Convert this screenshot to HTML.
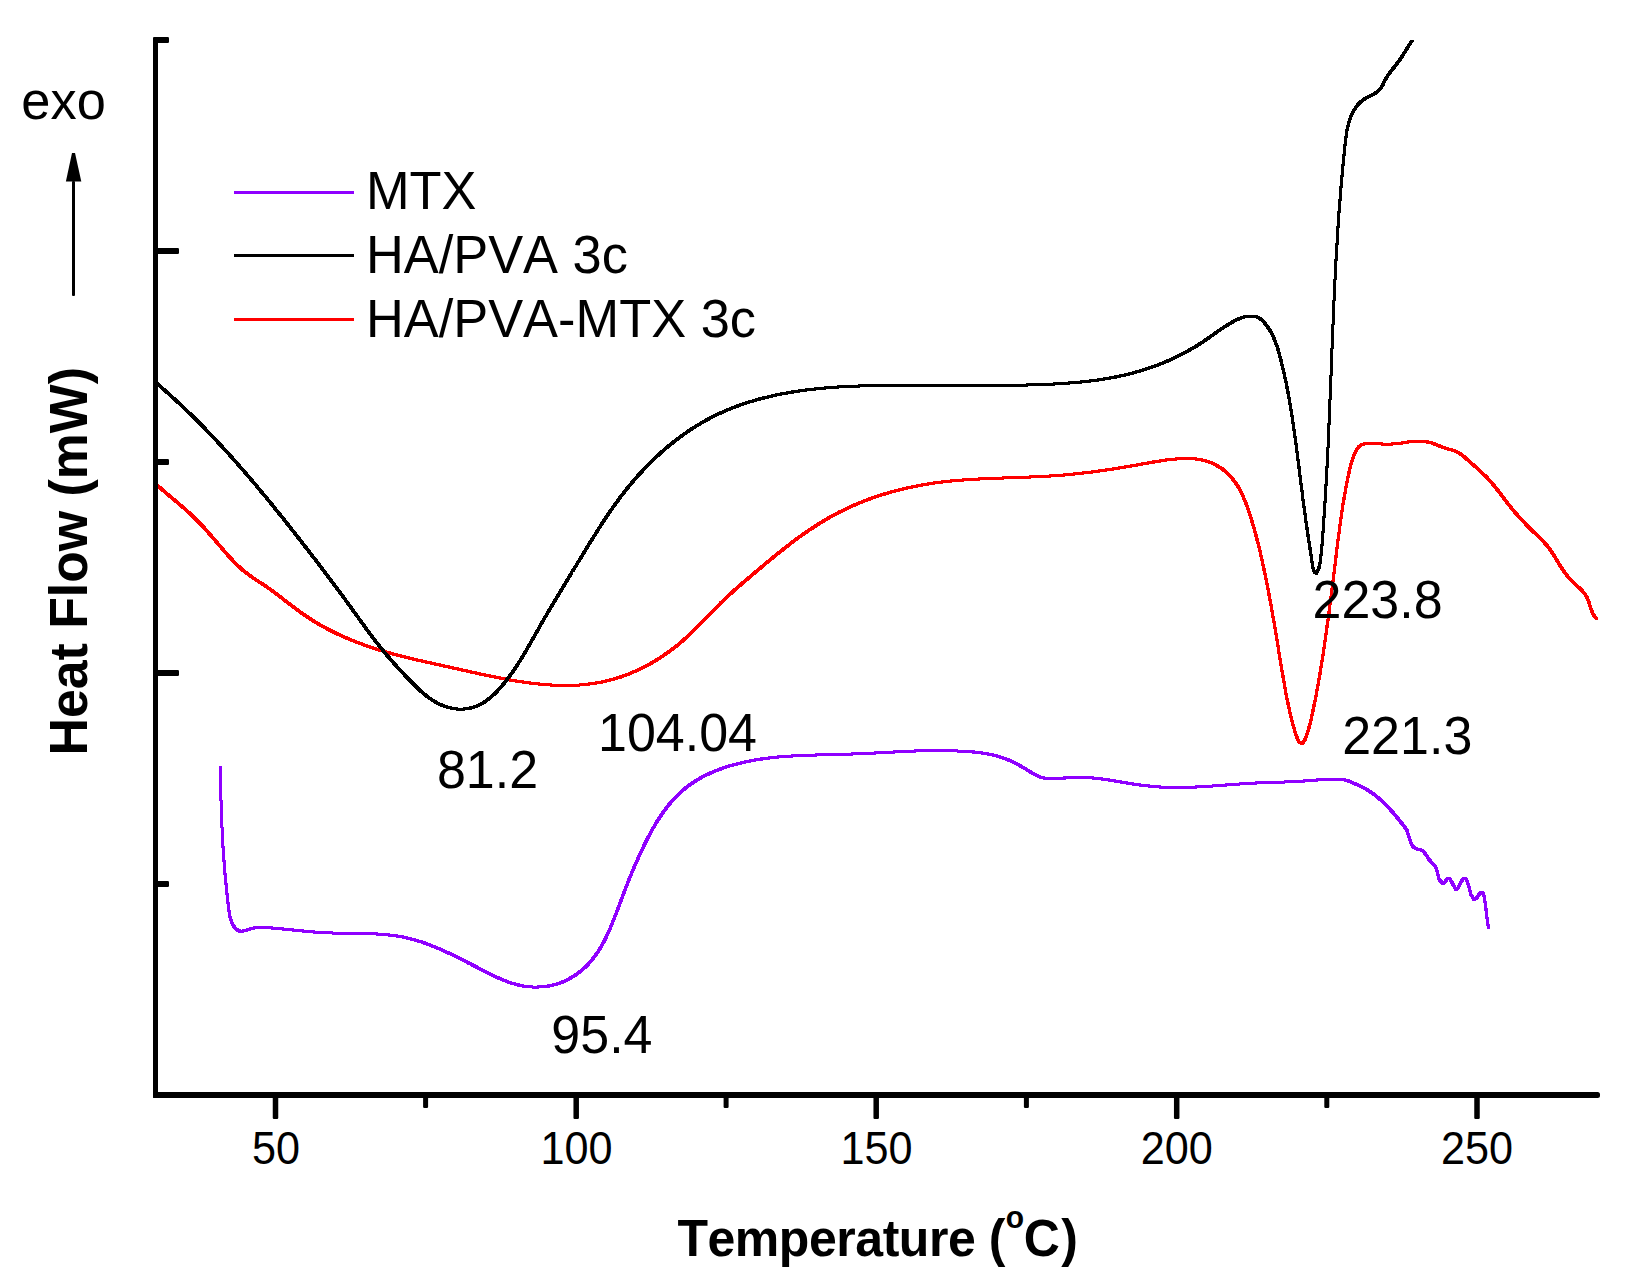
<!DOCTYPE html>
<html><head><meta charset="utf-8"><title>DSC thermogram</title>
<style>
html,body{margin:0;padding:0;background:#fff;}
svg{display:block;}
text{font-family:"Liberation Sans", sans-serif;fill:#000;}
.b{font-weight:bold;}
</style></head><body>
<svg width="1629" height="1287" viewBox="0 0 1629 1287">
<rect width="1629" height="1287" fill="#fff"/>
<!-- curves -->
<clipPath id="plot"><rect x="155" y="40" width="1460" height="1056"/></clipPath>
<filter id="pen" filterUnits="userSpaceOnUse" x="0" y="0" width="1629" height="1287"><feMorphology operator="dilate" radius="1"/></filter>
<g clip-path="url(#plot)" shape-rendering="crispEdges" fill="none" stroke-width="1" stroke-linejoin="round" stroke-linecap="butt">
<g filter="url(#pen)" stroke="#8f00ff"><path d="M220.3 767.0L220.3 770.0L220.4 773.0L220.4 776.0L220.5 779.0L220.6 782.0L220.6 785.0L220.7 788.1L220.8 791.1L220.9 794.1L220.9 797.1L221.0 800.1L221.1 803.1L221.2 806.1L221.3 809.1L221.4 812.1L221.5 815.1L221.6 818.1L221.8 821.1L221.9 824.1L222.0 827.1L222.1 830.1L222.3 833.1L222.4 836.1L222.6 839.1L222.8 842.1L222.9 845.1L223.1 848.1L223.3 851.1L223.5 854.1L223.7 857.1L223.9 860.1L224.2 863.1L224.4 866.1L224.6 869.1L224.9 872.1L225.1 875.1L225.4 878.1L225.7 881.1L226.0 884.1L226.3 887.1L226.6 890.1L226.9 893.0L227.2 896.0L227.5 899.0L227.9 902.0L228.2 905.0L228.6 908.0L229.0 911.0L229.4 913.9L230.0 916.9L230.8 919.8L231.8 922.6L233.2 925.3L234.9 927.7L237.1 929.8L239.8 931.1L242.7 931.1L245.7 930.4L248.5 929.5L251.4 928.7L254.4 928.0L257.4 927.7L260.4 927.5L263.4 927.5L266.4 927.7L269.4 927.8L272.4 928.0L275.4 928.3L278.4 928.5L281.3 928.8L284.3 929.1L287.3 929.4L290.3 929.7L293.3 930.0L296.3 930.3L299.3 930.6L302.3 930.9L305.3 931.2L308.3 931.5L311.3 931.7L314.3 932.0L317.2 932.2L320.2 932.4L323.2 932.6L326.2 932.8L329.3 932.9L332.3 933.0L335.3 933.1L338.3 933.2L341.3 933.2L344.3 933.2L347.3 933.3L350.3 933.3L353.3 933.3L356.3 933.4L359.3 933.4L362.3 933.5L365.3 933.5L368.3 933.6L371.3 933.7L374.3 933.9L377.3 934.0L380.3 934.2L383.3 934.4L386.3 934.7L389.3 935.0L392.3 935.4L395.3 935.8L398.2 936.2L401.2 936.7L404.2 937.3L407.1 938.0L410.0 938.7L412.9 939.4L415.8 940.2L418.7 941.1L421.6 942.0L424.4 943.0L427.2 944.0L430.0 945.1L432.8 946.2L435.6 947.3L438.4 948.5L441.2 949.6L443.9 950.9L446.6 952.1L449.4 953.4L452.1 954.7L454.8 956.0L457.5 957.3L460.2 958.7L462.8 960.0L465.5 961.4L468.2 962.8L470.9 964.1L473.5 965.5L476.2 966.9L478.9 968.3L481.5 969.7L484.2 971.0L486.9 972.4L489.6 973.8L492.3 975.1L495.0 976.4L497.7 977.7L500.5 978.9L503.2 980.0L506.0 981.1L508.8 982.2L511.7 983.1L514.6 984.0L517.5 984.8L520.4 985.4L523.4 986.0L526.3 986.4L529.3 986.8L532.3 987.0L535.3 987.1L538.3 987.0L541.3 986.9L544.3 986.6L547.3 986.2L550.3 985.7L553.2 985.0L556.1 984.2L559.0 983.3L561.8 982.3L564.5 981.1L567.2 979.8L569.9 978.4L572.5 976.9L575.0 975.3L577.5 973.5L579.9 971.7L582.2 969.8L584.5 967.8L586.6 965.8L588.7 963.6L590.7 961.4L592.7 959.0L594.5 956.7L596.3 954.2L598.0 951.8L599.6 949.2L601.1 946.6L602.6 944.0L604.1 941.4L605.4 938.7L606.7 936.0L608.0 933.3L609.2 930.5L610.4 927.8L611.6 925.0L612.7 922.2L613.8 919.4L614.9 916.6L616.0 913.8L617.0 911.0L618.1 908.2L619.2 905.4L620.2 902.6L621.3 899.8L622.3 896.9L623.4 894.1L624.5 891.3L625.5 888.5L626.6 885.7L627.7 882.9L628.8 880.1L630.0 877.3L631.1 874.6L632.2 871.8L633.4 869.0L634.6 866.2L635.8 863.5L637.0 860.7L638.2 858.0L639.4 855.2L640.7 852.5L642.0 849.8L643.3 847.1L644.6 844.4L645.9 841.7L647.3 839.0L648.7 836.3L650.1 833.7L651.5 831.0L653.0 828.4L654.5 825.8L656.0 823.2L657.6 820.7L659.2 818.1L660.9 815.6L662.6 813.2L664.3 810.7L666.1 808.3L668.0 805.9L669.9 803.6L671.8 801.3L673.8 799.1L675.9 796.9L678.0 794.8L680.2 792.7L682.4 790.7L684.7 788.7L687.1 786.9L689.5 785.1L692.0 783.3L694.5 781.7L697.0 780.1L699.6 778.6L702.2 777.1L704.9 775.7L707.6 774.4L710.3 773.1L713.1 771.9L715.8 770.8L718.6 769.7L721.5 768.6L724.3 767.7L727.2 766.7L730.0 765.8L732.9 765.0L735.8 764.2L738.7 763.5L741.7 762.8L744.6 762.1L747.5 761.5L750.5 760.9L753.4 760.3L756.4 759.8L759.4 759.3L762.3 758.9L765.3 758.5L768.3 758.1L771.3 757.7L774.3 757.4L777.3 757.1L780.2 756.8L783.2 756.6L786.2 756.4L789.2 756.2L792.2 756.0L795.2 755.8L798.2 755.7L801.2 755.5L804.2 755.4L807.2 755.3L810.3 755.2L813.3 755.1L816.3 755.0L819.3 754.9L822.3 754.9L825.3 754.8L828.3 754.7L831.3 754.7L834.3 754.6L837.3 754.5L840.3 754.4L843.3 754.3L846.3 754.3L849.3 754.1L852.3 754.0L855.3 753.9L858.3 753.8L861.3 753.7L864.3 753.5L867.3 753.4L870.3 753.2L873.3 753.1L876.3 752.9L879.3 752.7L882.3 752.6L885.3 752.4L888.3 752.3L891.3 752.1L894.3 752.0L897.3 751.8L900.4 751.7L903.4 751.5L906.4 751.4L909.4 751.3L912.4 751.2L915.4 751.0L918.4 750.9L921.4 750.9L924.4 750.8L927.4 750.7L930.4 750.7L933.4 750.6L936.4 750.6L939.4 750.6L942.4 750.6L945.4 750.7L948.4 750.7L951.4 750.8L954.4 750.9L957.4 751.0L960.4 751.1L963.4 751.3L966.4 751.5L969.4 751.7L972.4 751.9L975.4 752.2L978.4 752.5L981.4 752.9L984.4 753.3L987.3 753.8L990.3 754.4L993.2 755.0L996.1 755.8L999.0 756.6L1001.9 757.5L1004.7 758.5L1007.5 759.6L1010.3 760.8L1013.0 762.1L1015.7 763.4L1018.4 764.8L1021.0 766.3L1023.6 767.8L1026.2 769.3L1028.7 770.9L1031.3 772.5L1033.9 774.0L1036.5 775.5L1039.2 776.7L1042.1 777.6L1045.1 778.2L1048.1 778.4L1051.1 778.5L1054.1 778.5L1057.1 778.3L1060.1 778.2L1063.1 778.1L1066.1 777.9L1069.1 777.8L1072.1 777.7L1075.1 777.6L1078.1 777.5L1081.1 777.5L1084.1 777.5L1087.1 777.6L1090.1 777.8L1093.1 778.0L1096.1 778.3L1099.1 778.6L1102.1 779.0L1105.0 779.4L1108.0 779.8L1111.0 780.3L1114.0 780.8L1116.9 781.3L1119.9 781.8L1122.8 782.3L1125.8 782.8L1128.8 783.3L1131.7 783.8L1134.7 784.2L1137.7 784.7L1140.7 785.1L1143.6 785.4L1146.6 785.8L1149.6 786.1L1152.6 786.4L1155.6 786.7L1158.6 786.9L1161.6 787.1L1164.6 787.2L1167.6 787.4L1170.6 787.4L1173.6 787.5L1176.6 787.5L1179.6 787.5L1182.6 787.5L1185.6 787.4L1188.6 787.3L1191.6 787.2L1194.6 787.1L1197.6 786.9L1200.6 786.8L1203.6 786.6L1206.6 786.4L1209.6 786.2L1212.6 786.0L1215.6 785.8L1218.6 785.5L1221.6 785.3L1224.6 785.1L1227.6 784.9L1230.6 784.6L1233.6 784.4L1236.6 784.2L1239.6 784.0L1242.6 783.8L1245.6 783.6L1248.6 783.4L1251.6 783.2L1254.6 783.1L1257.6 782.9L1260.6 782.8L1263.6 782.7L1266.6 782.6L1269.6 782.5L1272.6 782.4L1275.6 782.3L1278.6 782.2L1281.7 782.1L1284.7 782.0L1287.7 781.9L1290.7 781.7L1293.7 781.6L1296.7 781.5L1299.7 781.3L1302.7 781.1L1305.7 780.9L1308.7 780.7L1311.7 780.4L1314.7 780.2L1317.7 779.9L1320.6 779.6L1323.6 779.4L1326.6 779.2L1329.6 779.1L1332.6 779.0L1335.7 779.0L1338.7 779.1L1341.7 779.4L1344.6 779.8L1347.5 780.6L1350.3 781.7L1353.1 782.9L1355.8 784.1L1358.6 785.3L1361.3 786.6L1364.0 788.0L1366.6 789.5L1369.1 791.0L1371.6 792.7L1374.1 794.5L1376.4 796.3L1378.8 798.2L1381.0 800.2L1383.2 802.3L1385.4 804.4L1387.5 806.5L1389.5 808.7L1391.5 810.9L1393.5 813.2L1395.5 815.5L1397.4 817.8L1399.3 820.2L1401.1 822.5L1403.0 824.9L1404.8 827.3L1406.6 829.7"/><path d="M1406.7 829.6L1408.6 835.4L1410.5 841.8L1412.4 846.3L1415.6 848.5L1422.7 850.5L1425.9 854.6L1429.7 860.4L1435.5 866.2L1437.4 872.6L1439.0 879.0L1442.6 883.8L1445.4 881.5L1447.1 878.7L1450.0 878.7L1452.8 884.1L1456.0 889.5L1458.6 887.3L1461.2 881.5L1463.3 878.7L1466.3 879.0L1468.2 884.1L1470.8 894.4L1474.0 899.5L1476.5 898.2L1479.7 893.7L1481.7 892.1L1483.6 893.3L1484.9 900.8L1486.2 911.0L1487.4 921.3L1488.5 928.3"/></g>
<path filter="url(#pen)" stroke="#ff0000" d="M155.5 483.5L157.7 485.6L159.9 487.6L162.1 489.6L164.4 491.6L166.7 493.5L169.0 495.5L171.3 497.4L173.6 499.3L175.9 501.3L178.2 503.2L180.4 505.2L182.7 507.1L185.0 509.1L187.2 511.1L189.5 513.1L191.7 515.1L193.8 517.2L196.0 519.3L198.1 521.5L200.2 523.6L202.2 525.8L204.3 528.0L206.3 530.3L208.3 532.5L210.2 534.8L212.2 537.0L214.2 539.3L216.1 541.6L218.1 543.9L220.0 546.2L222.0 548.4L223.9 550.7L225.9 553.0L227.9 555.2L229.9 557.4L232.0 559.6L234.0 561.8L236.1 564.0L238.3 566.0L240.5 568.1L242.8 570.1L245.1 572.0L247.5 573.8L249.9 575.6L252.3 577.3L254.8 579.0L257.3 580.7L259.8 582.3L262.4 583.9L264.9 585.6L267.3 587.3L269.8 589.0L272.2 590.8L274.7 592.6L277.1 594.4L279.4 596.2L281.8 598.0L284.2 599.9L286.6 601.7L288.9 603.5L291.3 605.4L293.7 607.2L296.1 609.0L298.5 610.8L300.9 612.6L303.4 614.3L305.9 616.0L308.4 617.7L310.9 619.3L313.4 620.9L316.0 622.5L318.6 624.0L321.2 625.5L323.8 627.0L326.4 628.4L329.1 629.8L331.8 631.2L334.5 632.5L337.2 633.8L339.9 635.1L342.6 636.3L345.4 637.5L348.1 638.7L350.9 639.8L353.7 641.0L356.5 642.1L359.3 643.1L362.1 644.2L364.9 645.2L367.8 646.2L370.6 647.1L373.5 648.1L376.3 649.0L379.2 649.9L382.1 650.8L385.0 651.6L387.8 652.5L390.7 653.3L393.6 654.1L396.5 654.9L399.4 655.6L402.3 656.4L405.3 657.1L408.2 657.8L411.1 658.5L414.0 659.2L416.9 659.9L419.9 660.6L422.8 661.3L425.7 661.9L428.7 662.6L431.6 663.2L434.5 663.9L437.5 664.5L440.4 665.1L443.3 665.8L446.3 666.4L449.2 667.1L452.1 667.7L455.1 668.4L458.0 669.0L460.9 669.7L463.8 670.3L466.8 671.0L469.7 671.7L472.6 672.3L475.6 673.0L478.5 673.6L481.4 674.3L484.4 674.9L487.3 675.5L490.2 676.1L493.2 676.7L496.1 677.3L499.1 677.9L502.0 678.5L505.0 679.0L507.9 679.6L510.9 680.1L513.9 680.6L516.8 681.1L519.8 681.6L522.8 682.0L525.7 682.4L528.7 682.8L531.7 683.2L534.7 683.6L537.7 683.9L540.6 684.2L543.6 684.5L546.6 684.7L549.6 684.9L552.6 685.1L555.6 685.2L558.6 685.3L561.6 685.4L564.6 685.4L567.6 685.4L570.6 685.4L573.6 685.3L576.6 685.1L579.6 685.0L582.6 684.7L585.6 684.5L588.6 684.1L591.6 683.7L594.6 683.3L597.5 682.8L600.5 682.3L603.4 681.7L606.3 681.0L609.3 680.3L612.2 679.5L615.1 678.7L617.9 677.8L620.8 676.9L623.6 675.9L626.4 674.9L629.2 673.8L632.0 672.6L634.8 671.4L637.5 670.2L640.2 668.9L642.9 667.6L645.6 666.2L648.2 664.8L650.9 663.4L653.5 661.9L656.0 660.3L658.6 658.7L661.1 657.1L663.6 655.4L666.1 653.7L668.5 652.0L671.0 650.2L673.4 648.4L675.7 646.6L678.1 644.7L680.4 642.8L682.7 640.8L684.9 638.8L687.1 636.8L689.3 634.8L691.5 632.7L693.7 630.6L695.8 628.5L697.9 626.4L700.0 624.2L702.1 622.1L704.2 619.9L706.3 617.8L708.4 615.6L710.5 613.4L712.6 611.3L714.7 609.1L716.8 607.0L718.9 604.9L721.0 602.7L723.2 600.6L725.4 598.6L727.5 596.5L729.7 594.5L732.0 592.4L734.2 590.4L736.4 588.4L738.7 586.4L741.0 584.5L743.2 582.5L745.5 580.6L747.8 578.6L750.1 576.7L752.4 574.7L754.7 572.8L757.0 570.8L759.3 568.9L761.6 567.0L763.9 565.0L766.2 563.1L768.5 561.2L770.8 559.3L773.1 557.4L775.4 555.5L777.8 553.6L780.1 551.7L782.5 549.9L784.8 548.0L787.2 546.2L789.6 544.3L792.0 542.5L794.4 540.7L796.8 538.9L799.2 537.1L801.6 535.4L804.1 533.6L806.6 531.9L809.0 530.2L811.5 528.6L814.0 526.9L816.6 525.3L819.1 523.7L821.6 522.1L824.2 520.5L826.8 519.0L829.4 517.5L832.0 516.0L834.7 514.6L837.3 513.2L840.0 511.8L842.7 510.5L845.4 509.2L848.1 507.9L850.8 506.6L853.6 505.4L856.3 504.2L859.1 503.1L861.9 501.9L864.7 500.8L867.5 499.8L870.3 498.7L873.1 497.7L876.0 496.7L878.8 495.8L881.7 494.9L884.5 494.0L887.4 493.1L890.3 492.3L893.2 491.5L896.1 490.7L899.0 489.9L901.9 489.2L904.8 488.5L907.8 487.8L910.7 487.2L913.6 486.6L916.6 486.0L919.5 485.4L922.5 484.9L925.5 484.4L928.4 483.9L931.4 483.4L934.4 483.0L937.3 482.6L940.3 482.2L943.3 481.9L946.3 481.5L949.3 481.2L952.3 480.9L955.2 480.6L958.2 480.4L961.2 480.1L964.2 479.9L967.2 479.7L970.2 479.5L973.2 479.3L976.2 479.1L979.2 479.0L982.2 478.8L985.2 478.7L988.2 478.5L991.2 478.4L994.2 478.3L997.2 478.2L1000.2 478.1L1003.2 478.0L1006.2 477.9L1009.2 477.8L1012.2 477.7L1015.2 477.6L1018.2 477.5L1021.2 477.4L1024.2 477.3L1027.2 477.1L1030.2 477.0L1033.2 476.9L1036.2 476.8L1039.2 476.6L1042.2 476.5L1045.2 476.3L1048.2 476.1L1051.2 475.9L1054.2 475.7L1057.2 475.5L1060.2 475.3L1063.2 475.1L1066.2 474.8L1069.2 474.5L1072.2 474.2L1075.2 473.9L1078.2 473.6L1081.1 473.3L1084.1 472.9L1087.1 472.6L1090.1 472.2L1093.1 471.8L1096.1 471.4L1099.0 471.0L1102.0 470.6L1105.0 470.2L1107.9 469.8L1110.9 469.3L1113.9 468.9L1116.9 468.4L1119.8 467.9L1122.8 467.4L1125.7 466.9L1128.7 466.4L1131.7 465.9L1134.6 465.4L1137.6 464.9L1140.5 464.3L1143.5 463.8L1146.4 463.2L1149.4 462.7L1152.4 462.2L1155.3 461.7L1158.3 461.2L1161.3 460.8L1164.2 460.3L1167.2 459.9L1170.2 459.6L1173.2 459.3L1176.2 459.0L1179.2 458.8L1182.2 458.6L1185.2 458.5L1188.2 458.5L1191.2 458.6L1194.2 458.8L1197.1 459.2L1200.1 459.6L1203.1 460.3L1206.0 461.0L1208.8 462.0L1211.6 463.0L1214.3 464.3L1217.0 465.7L1219.6 467.2L1222.1 468.8L1224.5 470.7L1226.8 472.6L1228.9 474.7L1231.0 476.9L1232.9 479.2L1234.7 481.6L1236.4 484.1L1238.0 486.6L1239.5 489.2L1240.9 491.9L1242.2 494.6L1243.5 497.3L1244.6 500.1L1245.8 502.9L1246.8 505.7L1247.8 508.5L1248.8 511.3L1249.7 514.2L1250.6 517.1L1251.5 519.9L1252.4 522.8L1253.3 525.7L1254.1 528.6L1254.9 531.5L1255.7 534.4L1256.5 537.3L1257.2 540.2L1258.0 543.1L1258.7 546.0L1259.4 548.9L1260.1 551.8L1260.8 554.8L1261.4 557.7L1262.1 560.6L1262.7 563.5L1263.4 566.5L1264.0 569.4L1264.6 572.4L1265.2 575.3L1265.8 578.2L1266.4 581.2L1267.0 584.1L1267.6 587.1L1268.2 590.0L1268.7 593.0L1269.3 595.9L1269.8 598.9L1270.4 601.8L1270.9 604.8L1271.5 607.7L1272.0 610.7L1272.5 613.7L1273.0 616.6L1273.6 619.6L1274.1 622.5L1274.6 625.5L1275.1 628.5L1275.6 631.4L1276.0 634.4L1276.5 637.3L1277.0 640.3L1277.5 643.3L1278.0 646.2L1278.5 649.2L1278.9 652.2L1279.4 655.1L1279.9 658.1L1280.4 661.1L1280.9 664.0L1281.4 667.0L1281.9 670.0L1282.4 672.9L1282.9 675.9L1283.4 678.8L1283.9 681.8L1284.4 684.7L1285.0 687.7L1285.5 690.7L1286.0 693.6L1286.6 696.6L1287.2 699.5L1287.8 702.5L1288.4 705.4L1289.0 708.3L1289.6 711.3L1290.3 714.2L1291.0 717.1L1291.7 720.0L1292.5 722.9L1293.3 725.8L1294.1 728.7L1295.0 731.6L1295.9 734.5L1296.9 737.3L1298.0 740.1L1299.5 742.6L1302.1 743.5L1304.1 741.2L1305.5 738.6L1306.5 735.8L1307.4 732.9L1308.3 730.0L1309.1 727.1L1309.9 724.2L1310.6 721.3L1311.3 718.4L1311.9 715.4L1312.6 712.5L1313.2 709.6L1313.8 706.6L1314.4 703.7L1315.0 700.7L1315.6 697.8L1316.2 694.9L1316.7 691.9L1317.3 688.9L1317.8 686.0L1318.3 683.0L1318.9 680.1L1319.4 677.1L1319.9 674.2L1320.4 671.2L1320.9 668.2L1321.3 665.3L1321.8 662.3L1322.3 659.3L1322.7 656.4L1323.2 653.4L1323.6 650.4L1324.1 647.5L1324.5 644.5L1324.9 641.5L1325.4 638.5L1325.8 635.6L1326.2 632.6L1326.6 629.6L1327.0 626.6L1327.5 623.7L1327.9 620.7L1328.3 617.7L1328.7 614.7L1329.1 611.8L1329.5 608.8L1329.8 605.8L1330.2 602.8L1330.6 599.8L1331.0 596.9L1331.4 593.9L1331.8 590.9L1332.1 587.9L1332.5 585.0L1332.9 582.0L1333.3 579.0L1333.6 576.0L1334.0 573.0L1334.4 570.0L1334.7 567.1L1335.1 564.1L1335.5 561.1L1335.8 558.1L1336.2 555.1L1336.5 552.2L1336.9 549.2L1337.3 546.2L1337.7 543.2L1338.0 540.2L1338.4 537.3L1338.8 534.3L1339.2 531.3L1339.6 528.3L1340.0 525.3L1340.4 522.4L1340.8 519.4L1341.2 516.4L1341.7 513.5L1342.1 510.5L1342.6 507.5L1343.0 504.5L1343.5 501.6L1344.0 498.6L1344.5 495.7L1345.0 492.7L1345.5 489.7L1346.1 486.8L1346.7 483.8L1347.2 480.9L1347.8 477.9L1348.4 475.0L1349.1 472.1L1349.7 469.1L1350.4 466.2L1351.2 463.3L1352.1 460.4L1353.1 457.6L1354.2 454.8L1355.4 452.1L1356.8 449.4L1358.6 447.0L1360.9 445.2L1363.7 444.0L1366.7 443.4L1369.6 443.2L1372.7 443.2L1375.6 443.4L1378.6 443.7L1381.6 444.0L1384.6 444.1L1387.6 444.2L1390.6 444.1L1393.6 443.9L1396.6 443.6L1399.6 443.3L1402.6 442.9L1405.5 442.4L1408.5 442.0L1411.5 441.6L1414.5 441.3L1417.5 441.1L1420.5 441.1L1423.5 441.3L1426.5 441.8L1429.4 442.4L1432.3 443.2L1435.1 444.2L1437.9 445.3L1440.7 446.5L1443.5 447.6L1446.3 448.5L1449.2 449.3L1452.2 450.0L1455.0 450.9L1457.7 452.2L1460.2 453.8L1462.6 455.6L1465.0 457.5L1467.2 459.5L1469.5 461.5L1471.7 463.5L1474.0 465.4L1476.2 467.4L1478.5 469.5L1480.7 471.5L1482.8 473.6L1485.0 475.7L1487.1 477.8L1489.1 480.0L1491.2 482.2L1493.1 484.5L1495.0 486.8L1496.9 489.2L1498.8 491.5L1500.6 493.9L1502.4 496.3L1504.2 498.7L1506.0 501.1L1507.8 503.5L1509.7 505.9L1511.6 508.2L1513.5 510.5L1515.4 512.8L1517.4 515.1L1519.4 517.3L1521.4 519.5L1523.5 521.7L1525.6 523.9L1527.7 526.0L1529.8 528.2L1531.9 530.3L1534.1 532.4L1536.3 534.4L1538.4 536.5L1540.6 538.6L1542.7 540.8L1544.7 543.0L1546.7 545.2L1548.6 547.6L1550.3 550.0L1552.0 552.5L1553.7 555.0L1555.2 557.5L1556.8 560.1L1558.4 562.7L1559.9 565.2L1561.5 567.8L1563.2 570.3L1564.9 572.8L1566.7 575.2L1568.6 577.5L1570.6 579.7L1572.7 581.9L1574.9 583.9L1577.1 585.9L1579.3 588.0L1581.5 590.1L1583.5 592.3L1585.3 594.7L1586.9 597.2L1588.1 600.0L1589.1 602.8L1590.0 605.7L1590.9 608.6L1591.9 611.4L1593.2 614.1L1594.8 616.6L1596.8 618.8"/>
<path filter="url(#pen)" stroke="#000" d="M155.6 382.4L157.9 384.4L160.1 386.3L162.4 388.3L164.7 390.3L166.9 392.3L169.2 394.2L171.4 396.3L173.6 398.3L175.8 400.3L178.0 402.3L180.2 404.4L182.4 406.4L184.6 408.5L186.8 410.6L188.9 412.7L191.1 414.7L193.2 416.8L195.4 419.0L197.5 421.1L199.6 423.2L201.7 425.3L203.8 427.5L205.9 429.6L208.0 431.8L210.1 433.9L212.2 436.1L214.2 438.3L216.3 440.5L218.3 442.7L220.4 444.9L222.4 447.1L224.4 449.3L226.5 451.5L228.5 453.7L230.5 455.9L232.5 458.2L234.5 460.4L236.5 462.7L238.5 464.9L240.4 467.2L242.4 469.4L244.4 471.7L246.3 474.0L248.3 476.2L250.2 478.5L252.2 480.8L254.1 483.1L256.1 485.4L258.0 487.7L259.9 490.0L261.8 492.3L263.7 494.6L265.7 496.9L267.6 499.3L269.5 501.6L271.4 503.9L273.2 506.2L275.1 508.6L277.0 510.9L278.9 513.2L280.8 515.6L282.7 517.9L284.5 520.3L286.4 522.6L288.3 525.0L290.1 527.3L292.0 529.7L293.8 532.0L295.7 534.4L297.5 536.8L299.4 539.1L301.2 541.5L303.1 543.9L304.9 546.2L306.8 548.6L308.6 551.0L310.4 553.4L312.2 555.7L314.1 558.1L315.9 560.5L317.7 562.9L319.5 565.3L321.3 567.7L323.2 570.1L325.0 572.5L326.8 574.8L328.6 577.2L330.4 579.6L332.2 582.1L334.0 584.5L335.8 586.9L337.5 589.3L339.3 591.7L341.1 594.1L342.9 596.5L344.7 598.9L346.4 601.4L348.2 603.8L350.0 606.2L351.8 608.6L353.5 611.1L355.3 613.5L357.0 615.9L358.8 618.4L360.5 620.8L362.3 623.2L364.1 625.6L365.8 628.1L367.6 630.5L369.4 632.9L371.2 635.3L373.0 637.7L374.8 640.1L376.6 642.5L378.5 644.8L380.4 647.2L382.2 649.5L384.1 651.9L386.0 654.2L388.0 656.5L389.9 658.7L391.9 661.0L393.9 663.3L395.9 665.5L397.9 667.7L399.9 669.9L402.0 672.1L404.0 674.3L406.1 676.5L408.2 678.7L410.3 680.8L412.4 683.0L414.5 685.1L416.6 687.2L418.8 689.3L421.0 691.3L423.3 693.3L425.6 695.2L427.9 697.0L430.4 698.8L432.9 700.4L435.4 702.0L438.1 703.4L440.8 704.7L443.6 705.8L446.4 706.8L449.3 707.7L452.2 708.3L455.2 708.8L458.2 709.1L461.2 709.1L464.2 709.0L467.1 708.6L470.1 708.1L473.0 707.3L475.8 706.4L478.6 705.2L481.3 703.9L483.9 702.4L486.4 700.7L488.8 698.9L491.1 697.0L493.3 695.0L495.5 692.9L497.6 690.7L499.6 688.5L501.6 686.3L503.5 684.0L505.4 681.7L507.3 679.3L509.1 676.9L510.9 674.5L512.6 672.1L514.3 669.6L516.0 667.1L517.6 664.6L519.2 662.0L520.8 659.5L522.4 656.9L523.9 654.4L525.4 651.8L527.0 649.2L528.4 646.6L529.9 644.0L531.4 641.4L532.9 638.7L534.3 636.1L535.8 633.5L537.3 630.9L538.8 628.3L540.2 625.7L541.7 623.1L543.2 620.5L544.7 617.9L546.2 615.3L547.7 612.7L549.3 610.1L550.8 607.5L552.3 604.9L553.8 602.3L555.4 599.8L556.9 597.2L558.5 594.6L560.0 592.0L561.6 589.5L563.1 586.9L564.7 584.3L566.2 581.8L567.8 579.2L569.3 576.6L570.9 574.1L572.5 571.5L574.0 568.9L575.6 566.4L577.1 563.8L578.7 561.2L580.3 558.7L581.8 556.1L583.4 553.6L584.9 551.0L586.5 548.4L588.1 545.9L589.6 543.3L591.2 540.8L592.8 538.2L594.4 535.7L596.0 533.1L597.6 530.6L599.2 528.0L600.8 525.5L602.4 523.0L604.1 520.5L605.7 518.0L607.4 515.5L609.1 513.0L610.8 510.5L612.5 508.1L614.2 505.6L616.0 503.2L617.7 500.8L619.5 498.3L621.3 495.9L623.1 493.6L625.0 491.2L626.9 488.8L628.7 486.5L630.6 484.2L632.6 481.9L634.5 479.6L636.5 477.4L638.5 475.1L640.5 472.9L642.6 470.7L644.6 468.5L646.7 466.3L648.8 464.2L650.9 462.1L653.1 460.0L655.3 457.9L657.4 455.9L659.7 453.8L661.9 451.8L664.1 449.9L666.4 447.9L668.7 446.0L671.0 444.1L673.4 442.2L675.7 440.3L678.1 438.5L680.5 436.7L683.0 435.0L685.4 433.2L687.9 431.5L690.4 429.8L692.9 428.2L695.4 426.6L698.0 425.0L700.5 423.5L703.1 421.9L705.7 420.5L708.4 419.0L711.0 417.6L713.7 416.3L716.4 414.9L719.1 413.6L721.8 412.4L724.6 411.2L727.3 410.0L730.1 408.9L732.9 407.7L735.7 406.7L738.5 405.6L741.3 404.6L744.2 403.7L747.0 402.7L749.9 401.8L752.8 401.0L755.6 400.1L758.5 399.3L761.4 398.5L764.3 397.8L767.2 397.1L770.2 396.4L773.1 395.7L776.0 395.1L779.0 394.5L781.9 393.9L784.9 393.3L787.8 392.8L790.8 392.3L793.7 391.8L796.7 391.3L799.7 390.9L802.6 390.5L805.6 390.1L808.6 389.7L811.6 389.4L814.6 389.0L817.5 388.7L820.5 388.4L823.5 388.1L826.5 387.9L829.5 387.6L832.5 387.4L835.5 387.2L838.5 387.0L841.5 386.8L844.5 386.6L847.5 386.5L850.5 386.3L853.5 386.2L856.5 386.1L859.5 386.0L862.5 385.9L865.5 385.8L868.5 385.7L871.5 385.6L874.5 385.5L877.5 385.5L880.5 385.4L883.5 385.4L886.5 385.4L889.5 385.3L892.5 385.3L895.5 385.3L898.5 385.3L901.5 385.3L904.5 385.3L907.5 385.3L910.5 385.3L913.5 385.3L916.5 385.3L919.5 385.3L922.5 385.3L925.5 385.3L928.5 385.3L931.5 385.3L934.5 385.3L937.5 385.3L940.5 385.4L943.5 385.4L946.5 385.4L949.5 385.4L952.5 385.4L955.5 385.4L958.5 385.5L961.5 385.5L964.5 385.5L967.5 385.5L970.5 385.5L973.5 385.5L976.5 385.5L979.5 385.5L982.5 385.5L985.5 385.5L988.5 385.5L991.5 385.5L994.5 385.5L997.5 385.5L1000.5 385.4L1003.5 385.4L1006.5 385.4L1009.5 385.3L1012.5 385.3L1015.5 385.2L1018.5 385.2L1021.5 385.1L1024.5 385.1L1027.5 385.0L1030.5 384.9L1033.5 384.8L1036.5 384.7L1039.5 384.6L1042.5 384.5L1045.5 384.4L1048.5 384.3L1051.5 384.1L1054.5 384.0L1057.5 383.8L1060.5 383.6L1063.5 383.4L1066.5 383.2L1069.5 383.0L1072.4 382.8L1075.4 382.5L1078.4 382.3L1081.4 382.0L1084.4 381.7L1087.4 381.3L1090.4 381.0L1093.3 380.6L1096.3 380.2L1099.3 379.8L1102.3 379.3L1105.2 378.9L1108.2 378.4L1111.1 377.8L1114.1 377.3L1117.0 376.7L1120.0 376.1L1122.9 375.4L1125.8 374.8L1128.7 374.1L1131.6 373.3L1134.5 372.5L1137.4 371.7L1140.3 370.9L1143.2 370.0L1146.0 369.1L1148.9 368.2L1151.7 367.2L1154.6 366.2L1157.4 365.1L1160.2 364.0L1162.9 362.9L1165.7 361.8L1168.5 360.6L1171.2 359.4L1173.9 358.1L1176.6 356.8L1179.3 355.5L1182.0 354.1L1184.7 352.7L1187.3 351.3L1189.9 349.8L1192.5 348.3L1195.1 346.8L1197.7 345.2L1200.2 343.6L1202.7 342.0L1205.2 340.3L1207.7 338.6L1210.1 336.8L1212.6 335.1L1215.0 333.4L1217.5 331.6L1219.9 329.9L1222.4 328.2L1224.9 326.6L1227.4 325.0L1230.0 323.4L1232.6 321.9L1235.2 320.5L1238.0 319.2L1240.8 318.1L1243.6 317.2L1246.5 316.5L1249.5 316.1L1252.5 316.0L1255.5 316.4L1258.3 317.5L1260.8 319.1L1263.0 321.1L1265.0 323.4L1266.8 325.7L1268.5 328.2L1270.1 330.7L1271.6 333.4L1272.9 336.1L1274.2 338.8L1275.3 341.6L1276.3 344.4L1277.3 347.2L1278.2 350.1L1279.0 353.0L1279.8 355.9L1280.6 358.8L1281.3 361.7L1282.0 364.6L1282.7 367.5L1283.4 370.4L1284.1 373.4L1284.7 376.3L1285.4 379.2L1286.0 382.2L1286.6 385.1L1287.1 388.0L1287.7 391.0L1288.3 393.9L1288.8 396.9L1289.3 399.9L1289.8 402.8L1290.3 405.8L1290.8 408.7L1291.3 411.7L1291.8 414.7L1292.2 417.6L1292.7 420.6L1293.1 423.6L1293.6 426.5L1294.0 429.5L1294.4 432.5L1294.8 435.4L1295.2 438.4L1295.6 441.4L1296.0 444.4L1296.4 447.3L1296.8 450.3L1297.2 453.3L1297.5 456.3L1297.9 459.2L1298.3 462.2L1298.7 465.2L1299.1 468.2L1299.4 471.2L1299.8 474.1L1300.2 477.1L1300.5 480.1L1300.9 483.1L1301.3 486.0L1301.7 489.0L1302.1 492.0L1302.4 495.0L1302.8 498.0L1303.2 500.9L1303.6 503.9L1304.0 506.9L1304.4 509.9L1304.8 512.8L1305.2 515.8L1305.6 518.8L1306.0 521.7L1306.4 524.7L1306.9 527.7L1307.3 530.7L1307.7 533.6L1308.2 536.6L1308.6 539.6L1309.1 542.5L1309.6 545.5L1310.0 548.5L1310.5 551.4L1310.9 554.4L1311.4 557.4L1311.8 560.3L1312.3 563.3L1312.7 566.3L1313.3 569.2L1314.4 572.0L1316.6 573.1L1318.0 570.4L1319.0 567.6L1319.7 564.7L1320.2 561.7L1320.6 558.7L1320.9 555.7L1321.3 552.8L1321.6 549.8L1321.8 546.8L1322.1 543.8L1322.3 540.8L1322.6 537.8L1322.8 534.8L1323.0 531.8L1323.2 528.8L1323.4 525.8L1323.6 522.8L1323.8 519.9L1324.0 516.9L1324.2 513.9L1324.4 510.9L1324.6 507.9L1324.8 504.9L1325.0 501.9L1325.2 498.9L1325.4 495.9L1325.6 492.9L1325.7 489.9L1325.9 486.9L1326.1 483.9L1326.2 480.9L1326.4 477.9L1326.6 474.9L1326.7 471.9L1326.9 468.9L1327.1 465.9L1327.2 462.9L1327.4 459.9L1327.5 456.9L1327.7 453.9L1327.8 450.9L1328.0 447.9L1328.1 444.9L1328.2 442.0L1328.4 439.0L1328.5 436.0L1328.6 433.0L1328.8 430.0L1328.9 427.0L1329.0 424.0L1329.2 421.0L1329.3 418.0L1329.4 415.0L1329.5 412.0L1329.7 409.0L1329.8 406.0L1329.9 403.0L1330.0 400.0L1330.1 397.0L1330.3 394.0L1330.4 391.0L1330.5 388.0L1330.6 385.0L1330.7 382.0L1330.9 379.0L1331.0 376.0L1331.1 373.0L1331.2 370.0L1331.3 367.0L1331.4 364.0L1331.6 361.0L1331.7 358.0L1331.8 355.0L1331.9 352.0L1332.0 349.0L1332.1 346.0L1332.3 343.0L1332.4 340.0L1332.5 337.0L1332.6 334.0L1332.7 331.0L1332.9 328.0L1333.0 325.0L1333.1 322.0L1333.2 319.0L1333.4 316.0L1333.5 313.0L1333.6 310.0L1333.7 307.0L1333.9 304.0L1334.0 301.0L1334.1 298.0L1334.3 295.0L1334.4 292.0L1334.6 289.0L1334.7 286.0L1334.9 283.0L1335.0 280.0L1335.1 277.0L1335.3 274.0L1335.5 271.0L1335.6 268.1L1335.8 265.1L1335.9 262.1L1336.1 259.1L1336.3 256.1L1336.4 253.1L1336.6 250.1L1336.8 247.1L1337.0 244.1L1337.1 241.1L1337.3 238.1L1337.5 235.1L1337.7 232.1L1337.9 229.1L1338.1 226.1L1338.3 223.1L1338.5 220.1L1338.7 217.1L1338.9 214.1L1339.1 211.1L1339.4 208.2L1339.6 205.2L1339.8 202.2L1340.1 199.2L1340.3 196.2L1340.5 193.2L1340.8 190.2L1341.0 187.2L1341.3 184.2L1341.5 181.2L1341.8 178.2L1342.1 175.3L1342.3 172.3L1342.6 169.3L1342.9 166.3L1343.2 163.3L1343.5 160.3L1343.8 157.3L1344.1 154.3L1344.4 151.4L1344.7 148.4L1345.0 145.4L1345.4 142.4L1345.7 139.4L1346.1 136.4L1346.5 133.5L1347.0 130.5L1347.6 127.6L1348.2 124.6L1349.0 121.8L1350.0 118.9L1351.0 116.1L1352.3 113.4L1353.7 110.7L1355.3 108.2L1357.1 105.8L1359.0 103.5L1361.2 101.4L1363.6 99.6L1366.2 98.1L1368.9 96.7L1371.5 95.4L1374.2 93.9L1376.7 92.3L1378.9 90.3L1380.9 88.0L1382.5 85.5L1383.8 82.8L1385.1 80.1L1386.6 77.5L1388.2 75.0L1390.0 72.5L1391.8 70.2L1393.7 67.8L1395.6 65.5L1397.4 63.1L1399.2 60.7L1400.9 58.2L1402.5 55.7L1404.1 53.2L1405.7 50.6L1407.3 48.1L1408.9 45.5L1410.5 43.0L1412.1 40.5L1413.8 38.0L1415.5 35.5"/>
</g>
<!-- axes -->
<g fill="#000">
<rect x="153" y="37" width="5" height="1061" rx="1"/>
<rect x="153" y="1092" width="1447" height="6" rx="2.5"/>
<rect x="153" y="1092" width="20" height="6" rx="1"/>
<rect x="155" y="37" width="14" height="6" rx="1.2"/>
<rect x="155" y="459" width="14" height="6" rx="1.2"/>
<rect x="155" y="881" width="14" height="6" rx="1.2"/>
<rect x="155" y="248" width="24" height="6" rx="1.2"/>
<rect x="155" y="670" width="24" height="6" rx="1.2"/>
<rect x="272.75" y="1095" width="5.5" height="24" rx="1.2"/>
<rect x="573.45" y="1095" width="5.5" height="24" rx="1.2"/>
<rect x="873.45" y="1095" width="5.5" height="24" rx="1.2"/>
<rect x="1173.95" y="1095" width="5.5" height="24" rx="1.2"/>
<rect x="1474.25" y="1095" width="5.5" height="24" rx="1.2"/>
<rect x="423.10" y="1095" width="5" height="13" rx="1.2"/>
<rect x="723.60" y="1095" width="5" height="13" rx="1.2"/>
<rect x="1023.90" y="1095" width="5" height="13" rx="1.2"/>
<rect x="1324.30" y="1095" width="5" height="13" rx="1.2"/>
</g>
<!-- exo arrow -->
<path d="M72 153H75L81.3 181.6H65.9Z" fill="#000"/>
<rect x="72" y="181" width="3" height="115" rx="1" fill="#000"/>
<!-- legend -->
<g stroke-width="3" fill="none" shape-rendering="crispEdges">
<path stroke="#8f00ff" d="M234 192.5H354"/>
<path stroke="#000" d="M234 255.5H354"/>
<path stroke="#ff0000" d="M234 319.5H354"/>
</g>
<text transform="translate(21.3 119) scale(1 1.025)" font-size="52.4" style="font-kerning:none">exo</text>
<text transform="translate(365.9 209) scale(1 1.025)" font-size="52.4" style="font-kerning:none">MTX</text>
<text transform="translate(365.9 272.7) scale(1 1.025)" font-size="52.4" style="font-kerning:none">HA/PVA 3c</text>
<text transform="translate(365.9 337) scale(1 1.025)" font-size="52.4" style="font-kerning:none">HA/PVA-MTX 3c</text>
<text transform="translate(1312.5 618) scale(1 1.035)" font-size="52.0" style="font-kerning:none">223.8</text>
<text transform="translate(1342.2 754.3) scale(1 1.035)" font-size="52.0" style="font-kerning:none">221.3</text>
<text transform="translate(598.0 750.9) scale(1 1.035)" font-size="52.0" style="font-kerning:none">104.04</text>
<text transform="translate(436.9 787.7) scale(1 1.035)" font-size="52.0" style="font-kerning:none">81.2</text>
<text transform="translate(551.3 1052.8) scale(1 1.035)" font-size="52.0" style="font-kerning:none">95.4</text>
<text transform="translate(276 1163.6) scale(1 1.05)" font-size="43.2" text-anchor="middle">50</text>
<text transform="translate(576.5 1163.6) scale(1 1.05)" font-size="43.2" text-anchor="middle">100</text>
<text transform="translate(876.5 1163.6) scale(1 1.05)" font-size="43.2" text-anchor="middle">150</text>
<text transform="translate(1176.7 1163.6) scale(1 1.05)" font-size="43.2" text-anchor="middle">200</text>
<text transform="translate(1477 1163.6) scale(1 1.05)" font-size="43.2" text-anchor="middle">250</text>
<text class="b" font-size="51.8" text-anchor="middle" style="font-kerning:none" transform="translate(86.7 561.3) rotate(-90) scale(1 1.02)">Heat Flow (mW)</text>
<text class="b" font-size="50" style="font-kerning:none" transform="translate(677.4 1255.5) scale(1 1.02)"><tspan x="0" y="0" letter-spacing="-0.45">Temperature (</tspan><tspan x="328.3" y="-27.3" font-size="30">o</tspan><tspan x="346.4 383.8" y="0">C)</tspan></text>

</svg>
</body></html>
